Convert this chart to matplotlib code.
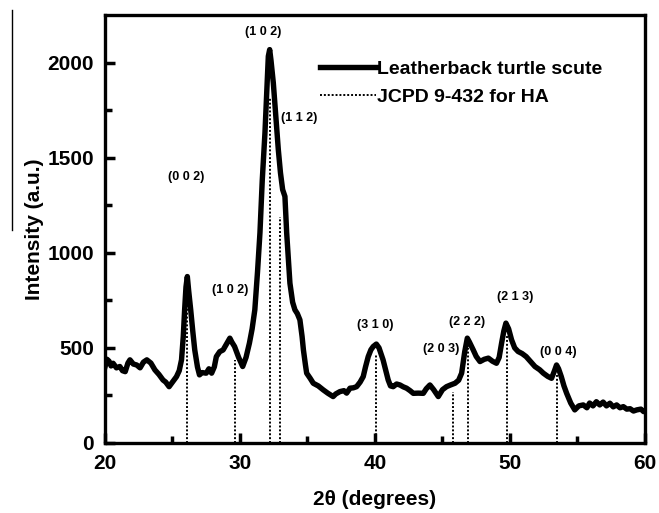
import matplotlib
matplotlib.use("Agg")
import matplotlib.pyplot as plt
from matplotlib.lines import Line2D

plt.rcParams['font.family'] = ['Liberation Sans', 'DejaVu Sans']
plt.rcParams['font.weight'] = 'bold'

# XRD pattern of the scute sample (2theta in degrees, intensity in a.u.)
two_theta = [20.0, 20.15, 20.3, 20.45, 20.6, 20.85, 21.1, 21.3, 21.5, 21.7, 21.85, 22.1,
             22.35, 22.6, 22.85, 23.1, 23.4, 23.7, 24.0, 24.15, 24.3, 24.5, 24.75, 25.0,
             25.3, 25.5, 25.67, 25.8, 25.9, 26.0, 26.1, 26.2, 26.35, 26.5, 26.65, 26.85,
             27.0, 27.2, 27.5, 27.7, 27.9, 28.1, 28.25, 28.5, 28.75, 29.0, 29.25, 29.4,
             29.6, 29.9, 30.2, 30.45, 30.7, 30.9, 31.1, 31.3, 31.48, 31.65, 31.85, 32.0,
             32.1, 32.2, 32.3, 32.47, 32.65, 32.84, 33.0, 33.16, 33.33, 33.46, 33.6, 33.7,
             33.9, 34.07, 34.25, 34.44, 34.6, 34.7, 34.85, 34.94, 35.2, 35.43, 35.8, 36.17,
             36.5, 36.9, 37.1, 37.4, 37.7, 37.9, 38.15, 38.4, 38.64, 38.9, 39.13, 39.3,
             39.5, 39.7, 39.87, 40.1, 40.3, 40.6, 40.8, 40.98, 41.15, 41.35, 41.6, 41.85,
             42.1, 42.34, 42.6, 42.84, 43.2, 43.58, 43.8, 44.07, 44.35, 44.69, 45.0, 45.3,
             45.6, 45.93, 46.2, 46.42, 46.65, 46.84, 47.0, 47.28, 47.5, 47.78, 48.1, 48.4,
             48.7, 49.0, 49.2, 49.38, 49.55, 49.7, 49.9, 50.12, 50.35, 50.6, 50.9, 51.2,
             51.5, 51.85, 52.2, 52.47, 52.8, 53.08, 53.3, 53.45, 53.6, 53.8, 54.0, 54.2,
             54.5, 54.8, 55.1, 55.43, 55.7, 55.9, 56.15, 56.4, 56.65, 56.9, 57.15, 57.4,
             57.65, 57.9, 58.15, 58.4, 58.65, 58.9, 59.15, 59.4, 59.7, 59.9, 60.0]
intensity = [400, 440, 430, 405, 419, 395, 402, 380, 375, 420, 437, 415,
             410, 395, 425, 437, 420, 384, 360, 345, 331, 320, 296, 320,
             349, 380, 437, 560, 700, 820, 875, 800, 700, 590, 489, 400,
             358, 370, 367, 390, 367, 400, 454, 480, 489, 520, 551, 530,
             507, 450, 402, 450, 525, 600, 700, 900, 1105, 1380, 1630, 1880,
             2033, 2068, 2010, 1893, 1720, 1542, 1420, 1332, 1296, 1104, 950, 840,
             740, 700, 680, 647, 560, 489, 410, 367, 340, 314, 300, 279,
             262, 244, 258, 270, 275, 262, 288, 290, 296, 320, 349, 400,
             454, 490, 507, 520, 500, 437, 380, 331, 300, 296, 310, 305,
             295, 288, 275, 261, 262, 261, 285, 305, 280, 244, 280, 296,
             305, 314, 330, 367, 480, 551, 530, 489, 455, 428, 440, 446,
             430, 419, 450, 525, 590, 630, 600, 542, 500, 481, 470, 454,
             430, 402, 385, 367, 350, 340, 380, 410, 390, 349, 300, 261,
             210, 174, 195, 200, 185, 210, 195, 217, 200, 215, 195, 209,
             190, 200, 185, 191, 178, 180, 168, 174, 178, 165, 170]

# JCPDS 9-432 hydroxyapatite reflections
ha_pos = [26.05, 29.6, 32.2, 33.0, 40.05, 45.8, 46.9, 49.75, 53.5]
ha_top = [750, 437, 1820, 1190, 463, 268, 500, 568, 358]
ha_hkl = ['(0 0 2)', '(1 0 2)', '(1 0 2)', '(1 1 2)', '(3 1 0)',
          '(2 0 3)', '(2 2 2)', '(2 1 3)', '(0 0 4)']
label_x = [26.05, 29.3, 31.7, 34.4, 40.05, 44.9, 46.8, 50.4, 53.6]
label_y = [1400, 805, 2158, 1710, 620, 495, 637, 768, 479]

fig = plt.figure(figsize=(6.59, 5.13), dpi=100)
ax = fig.add_axes([0.1593, 0.1365, 0.8194, 0.8343])

ax.vlines(ha_pos, 0, ha_top, colors='black', linestyles=(0, (1, 1)), linewidth=1.4,
          label='JCPD 9-432 for HA', zorder=2)
ax.plot(two_theta, intensity, color='black', linewidth=3.9, solid_joinstyle='round',
        label='Leatherback turtle scute', zorder=3)

for x, y, t in zip(label_x, label_y, ha_hkl):
    ax.text(x, y, t, ha='center', va='center', fontsize=9, fontweight='bold')

ax.set_xlim(20, 60)
ax.set_ylim(0, 2250)
ax.set_xticks([20, 30, 40, 50, 60])
ax.set_xticks([25, 35, 45, 55], minor=True)
ax.set_yticks([0, 500, 1000, 1500, 2000])
ax.set_yticks([250, 750, 1250, 1750], minor=True)
ax.tick_params(which='major', direction='in', length=7, width=2.5, labelsize=15, pad=8)
ax.tick_params(which='minor', direction='in', length=5, width=2.5)
for lab in ax.get_xticklabels() + ax.get_yticklabels():
    lab.set_fontweight('bold')
for s in ax.spines.values():
    s.set_linewidth(2.4)

ax.set_xlabel('2θ (degrees)', fontsize=15, fontweight='bold', labelpad=12)
ax.set_ylabel('Intensity (a.u.)', fontsize=15, fontweight='bold', labelpad=2)

handles, labels = ax.get_legend_handles_labels()
ax.legend(handles[::-1], labels[::-1], loc='upper left', bbox_to_anchor=(0.365, 0.935),
          frameon=False, handlelength=2.9, handletextpad=0.05, labelspacing=0.55,
          prop={'size': 14, 'weight': 'bold'})

# thin rule at the far left edge
fig.add_artist(Line2D([12 / 659, 12 / 659], [1 - 230 / 513, 1 - 10 / 513],
                      color='black', linewidth=1.0))

fig.savefig('out.png', dpi=100)
